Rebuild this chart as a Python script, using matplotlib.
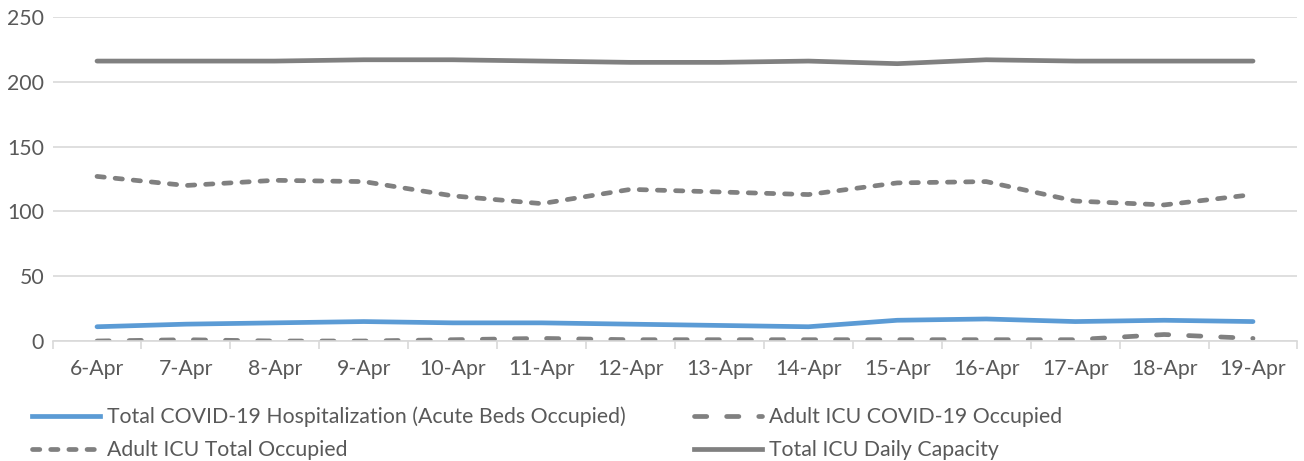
import matplotlib
matplotlib.use("Agg")
import matplotlib.pyplot as plt
import numpy as np
from matplotlib.lines import Line2D

plt.rcParams['font.family'] = ['Lato', 'DejaVu Sans']

# data
dates = ["6-Apr", "7-Apr", "8-Apr", "9-Apr", "10-Apr", "11-Apr", "12-Apr",
         "13-Apr", "14-Apr", "15-Apr", "16-Apr", "17-Apr", "18-Apr", "19-Apr"]
covid_hosp = [11, 13, 14, 15, 14, 14, 13, 12, 11, 16, 17, 15, 16, 15]
icu_covid = [0, 1, 0, 0, 1, 2, 1, 1, 1, 1, 1, 1, 5, 2]
icu_total = [127, 120, 124, 123, 112, 106, 117, 115, 113, 122, 123, 108, 105, 113]
icu_capacity = [216, 216, 216, 217, 217, 216, 215, 215, 216, 214, 217, 216, 216, 216]

blue = "#5B9BD5"
gray = "#808080"
txt = "#595959"
fs = 15.3

fig = plt.figure(figsize=(13.04, 4.61), dpi=100)
ax = fig.add_axes([0.0403, 0.2603, 0.9547, 0.7028])

x = np.arange(len(dates))
lw = 3.4
long_dash = (2.6, 4.2)
short_dash = (1.55, 2.3)
ax.plot(x, covid_hosp, color=blue, lw=lw, solid_capstyle='round', solid_joinstyle='round')
ax.plot(x, icu_covid, color=gray, lw=lw, dashes=long_dash, dash_capstyle='round')
ax.plot(x, icu_total, color=gray, lw=lw, dashes=short_dash, dash_capstyle='round')
ax.plot(x, icu_capacity, color=gray, lw=lw, solid_capstyle='round', solid_joinstyle='round')

ax.set_xlim(-0.5, len(dates) - 0.5)
ax.set_ylim(0, 250)
ax.set_yticks(range(0, 251, 50))
ax.set_xticks(x)
ax.set_xticklabels(dates)
ax.set_xticks(np.arange(-0.5, len(dates), 1), minor=True)

ax.grid(axis='y', color='#d9d9d9', lw=1.2)
ax.set_axisbelow(True)
for s in ['top', 'right', 'left']:
    ax.spines[s].set_visible(False)
ax.spines['bottom'].set_color('#d9d9d9')
ax.spines['bottom'].set_linewidth(1.2)

ax.tick_params(axis='y', length=0, pad=6, labelsize=fs, labelcolor=txt)
ax.tick_params(axis='x', which='major', length=0, pad=13, labelsize=fs, labelcolor=txt)
ax.tick_params(axis='x', which='minor', length=6, color='#d9d9d9', width=1.2)

handles = [
    Line2D([], [], color=blue, lw=lw),
    Line2D([], [], color=gray, lw=lw, dashes=long_dash, dash_capstyle='round'),
    Line2D([], [], color=gray, lw=lw, dashes=short_dash, dash_capstyle='round'),
    Line2D([], [], color=gray, lw=lw),
]
labels = ["Total COVID-19 Hospitalization (Acute Beds Occupied)",
          "Adult ICU COVID-19 Occupied",
          "Adult ICU Total Occupied",
          "Total ICU Daily Capacity"]
# order so that column-wise fill gives the row layout of the original
order = [0, 2, 1, 3]
leg = fig.legend([handles[i] for i in order], [labels[i] for i in order],
                 ncol=2, loc='upper left', bbox_to_anchor=(0.018, 0.136),
                 frameon=False, fontsize=fs, handlelength=3.2, handletextpad=0.33,
                 columnspacing=3.2, labelspacing=0.6, borderaxespad=0)
for t in leg.get_texts():
    t.set_color(txt)

fig.savefig("out.png", dpi=100)
